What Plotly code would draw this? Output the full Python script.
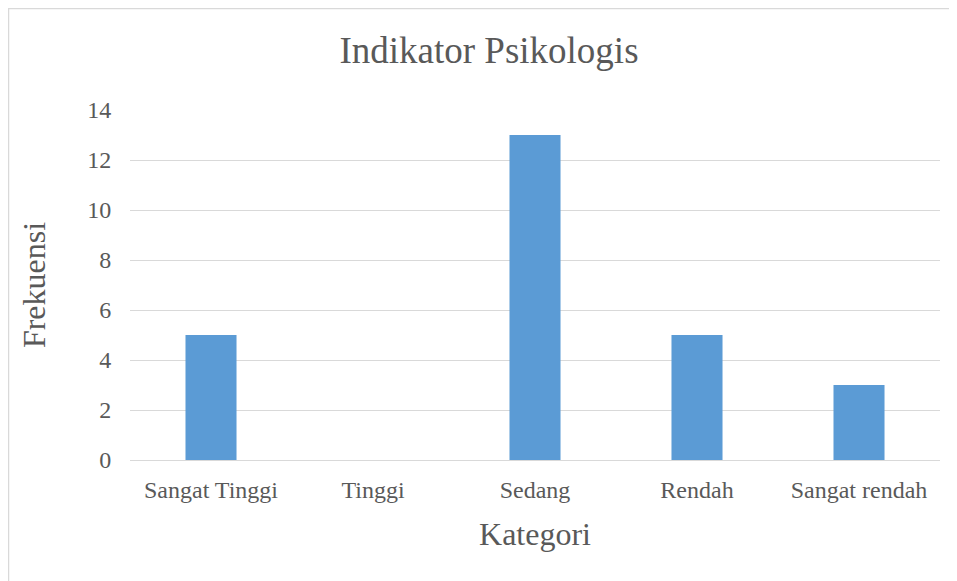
import plotly.graph_objects as go

categories = ["Sangat Tinggi", "Tinggi", "Sedang", "Rendah", "Sangat rendah"]
frekuensi = [5, 0, 13, 5, 3]
y_ticks = [0, 2, 4, 6, 8, 10, 12, 14]

W, H = 957, 581
L, R, T, B = 122, 25, 102, 129
pw, ph = W - L - R, H - T - B

def px_x(x):
    return (x - L) / pw

def px_y(y):
    return (H - B - y) / ph

font_family = "Liberation Serif, Times New Roman, serif"
txt = "#595959"

fig = go.Figure(go.Bar(
    x=categories, y=frekuensi,
    marker=dict(color="#5b9bd5", line=dict(width=0)),
    width=0.315,
))

fig.update_layout(
    width=W, height=H,
    margin=dict(l=L, r=R, t=T, b=B),
    paper_bgcolor="white", plot_bgcolor="white",
    showlegend=False,
    font=dict(family=font_family, color=txt, size=24),
    title=dict(text="Indikator Psikologis", font=dict(size=37, color=txt, family=font_family),
               x=481 / W, xanchor="center", y=1 - 42 / H, yanchor="middle"),
    xaxis=dict(
        range=[-0.5, 4.5], showgrid=False, showline=False, zeroline=False,
        ticks="outside", ticklen=8, tickcolor="rgba(0,0,0,0)",
        tickfont=dict(size=24, color=txt),
        title=dict(text="Kategori", font=dict(size=32, color=txt), standoff=20),
    ),
    yaxis=dict(
        range=[0, 14], tickvals=y_ticks, showgrid=True, gridcolor="#d9d9d9", gridwidth=1,
        zeroline=True, zerolinecolor="#d9d9d9", zerolinewidth=1, showline=False,
        ticks="outside", ticklen=13, tickcolor="rgba(0,0,0,0)",
        tickfont=dict(size=24, color=txt),
        title=dict(text="Frekuensi", font=dict(size=32, color=txt), standoff=32),
    ),
    shapes=[dict(type="rect", xref="paper", yref="paper",
                 x0=px_x(0.5), x1=px_x(990), y0=px_y(0.5), y1=px_y(620),
                 line=dict(color="#d9d9d9", width=1.5), layer="below")],
)

fig.write_html("out.html")
